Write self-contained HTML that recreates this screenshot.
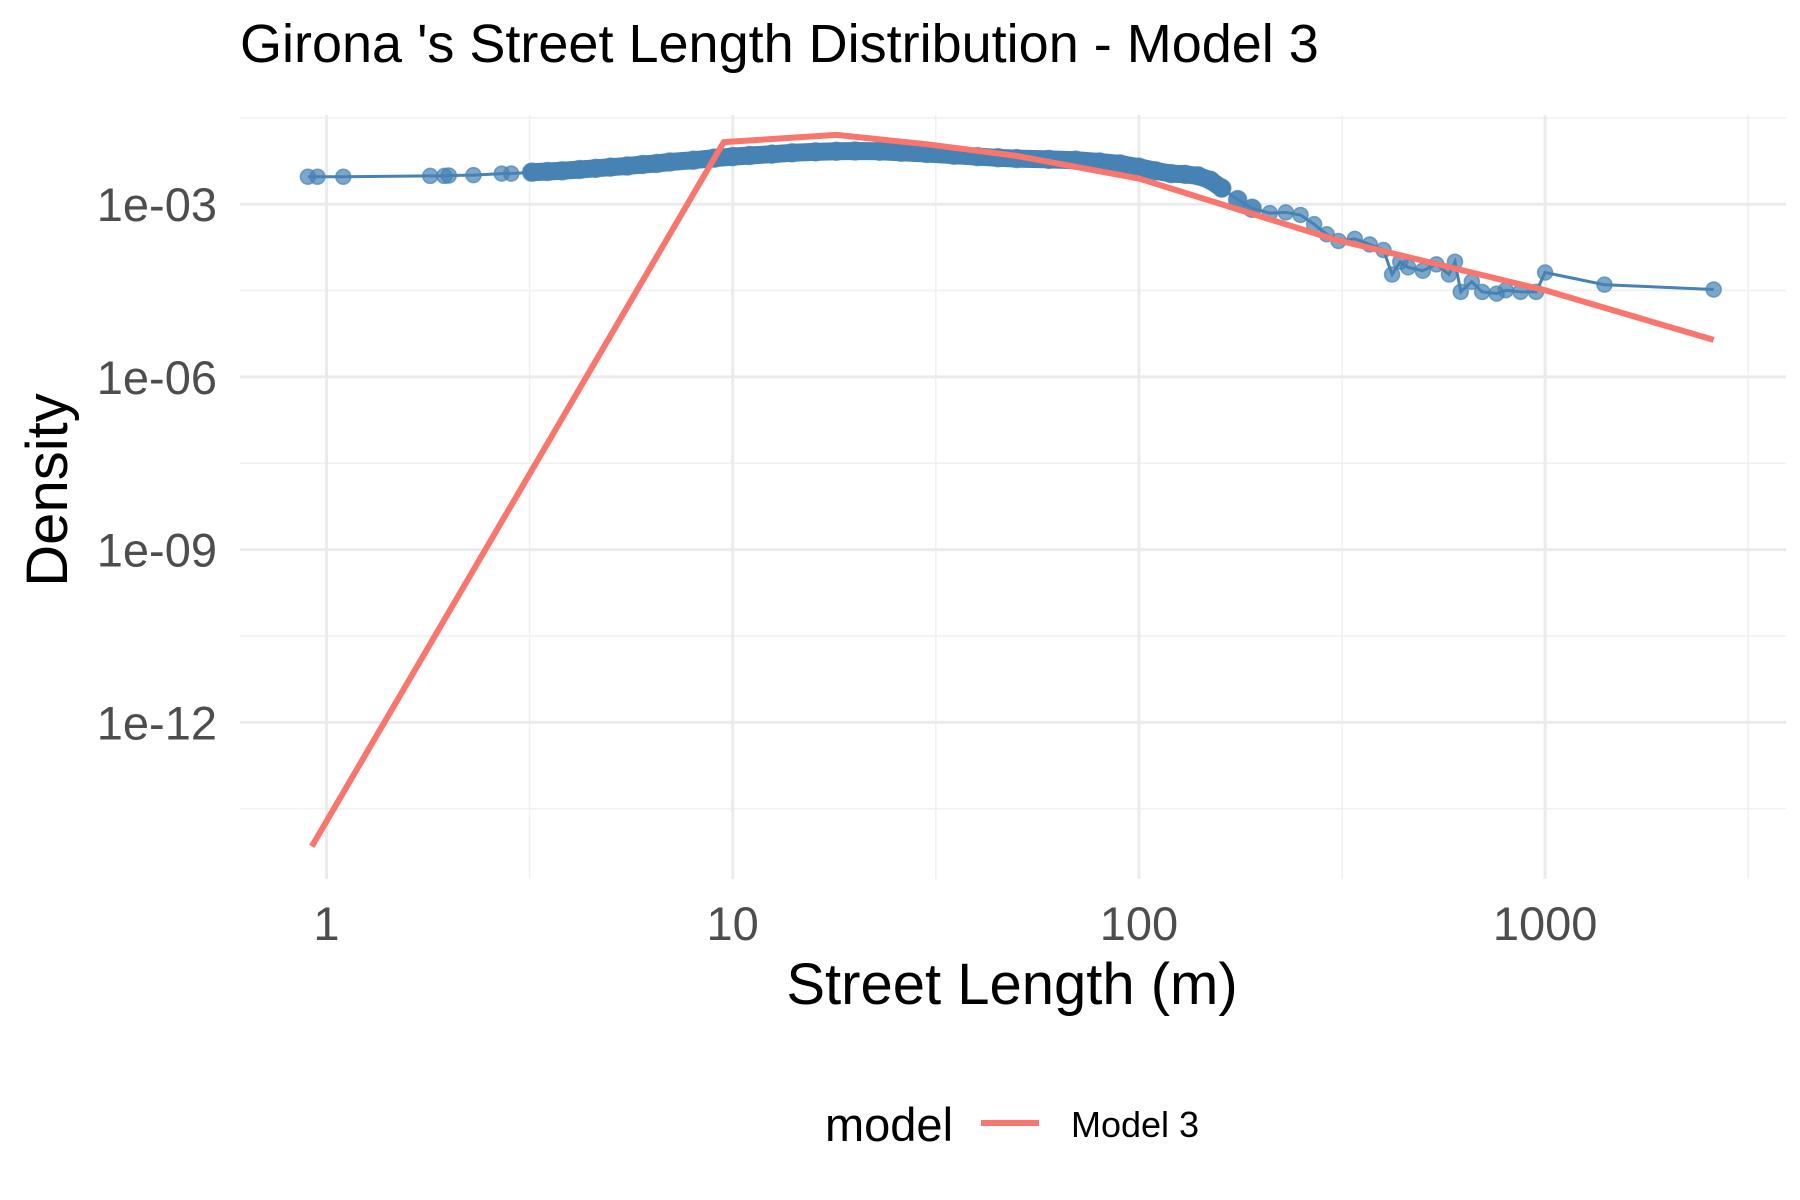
<!DOCTYPE html>
<html><head><meta charset="utf-8"><style>
html,body{margin:0;padding:0;background:#fff;}
svg{display:block;font-family:"Liberation Sans",Arial,sans-serif;}
</style></head><body>
<svg id="chart" width="1800" height="1200" viewBox="0 0 1800 1200">
<text x="240" y="62" font-size="54" fill="#000">Girona 's Street Length Distribution - Model 3</text>
<g id="grid"></g><g id="marks"></g><g id="axes"></g>
<text x="1012" y="1004" font-size="58" text-anchor="middle" fill="#000">Street Length (m)</text>
<text transform="translate(67,490) rotate(-90)" font-size="58" text-anchor="middle" fill="#000">Density</text>
<g>
<text x="825" y="1141" font-size="47" fill="#000">model</text>
<line x1="981" y1="1123" x2="1039" y2="1123" stroke="#F8766D" stroke-width="6"/>
<text x="1071" y="1137" font-size="36" fill="#000">Model 3</text>
</g>
</svg>
<script>
const obsX=[0.9,0.95,1.1,1.8,1.95,2.0,2.3,2.7,2.85,3.2,3.5,3.8,4.2,4.6,5,5.5,6,6.5,7,8,9,10,11,12.5,14,16,18,20,23,26,30,35,40,45,50,60,70,80,90,100,110,120,130,140,150,160,175,190,210,230,250,270,290,310,340,370,400,420,440,460,500,540,580,600,620,660,700,760,800,870,950,1000,1400,2600];
const obsY=[3.0e-3,3.0e-3,3.0e-3,3.1e-3,3.1e-3,3.15e-3,3.2e-3,3.4e-3,3.4e-3,3.6e-3,3.7e-3,3.8e-3,4.0e-3,4.2e-3,4.4e-3,4.6e-3,4.9e-3,5.1e-3,5.4e-3,5.8e-3,6.3e-3,6.7e-3,7.0e-3,7.4e-3,7.8e-3,8.1e-3,8.3e-3,8.4e-3,8.3e-3,8.0e-3,7.6e-3,7.1e-3,6.7e-3,6.4e-3,6.2e-3,6.0e-3,5.8e-3,5.4e-3,5.0e-3,4.4e-3,3.8e-3,3.4e-3,3.3e-3,3.1e-3,2.6e-3,1.9e-3,1.2e-3,8.5e-4,7.0e-4,7.2e-4,6.5e-4,4.5e-4,3.0e-4,2.3e-4,2.5e-4,2.0e-4,1.6e-4,6e-5,1.0e-4,8e-5,7e-5,9e-5,6e-5,1.0e-4,3e-5,4.5e-5,3e-5,2.8e-5,3.2e-5,3e-5,3e-5,6.5e-5,4e-5,3.3e-5];
const modelX=[0.92,9.5,18,30,50,100,300,1000,2600];
const modelY=[7e-15,1.2e-2,1.6e-2,1.1e-2,6.9e-3,2.8e-3,2.5e-4,3.2e-5,4.4e-6];
const xTicks=[1,10,100,1000];
const xTickLabels=["1","10","100","1000"];
const yTicks=[1e-3,1e-6,1e-9,1e-12];
const yTickLabels=["1e-03","1e-06","1e-09","1e-12"];

const NS="http://www.w3.org/2000/svg";
const L=240,R=1786,T=115,B=879;
function sx(x){return 326.5+406.2*Math.log10(x);}
function sy(y){return 204.2-57.57*(Math.log10(y)+3);}
function mk(tag,attrs,parent){const e=document.createElementNS(NS,tag);for(const k in attrs)e.setAttribute(k,attrs[k]);parent.appendChild(e);return e;}
const grid=document.getElementById('grid'),marks=document.getElementById('marks'),axes=document.getElementById('axes');
for(let i=-0.5;i<=3.5;i+=1){const x=sx(Math.pow(10,i));if(x<L||x>R)continue;const g=mk('line',{x1:x,x2:x,y1:T,y2:B,stroke:'#f0f0f0','stroke-width':1.5},grid);

}
for(let e=-1.5;e>=-13.5;e-=3){const y=sy(Math.pow(10,e));if(y<T||y>B)continue;const g=mk('line',{x1:L,x2:R,y1:y,y2:y,stroke:'#f0f0f0','stroke-width':1.5},grid);

}
xTicks.forEach((v,i)=>{const x=sx(v);const g=mk('line',{x1:x,x2:x,y1:T,y2:B,stroke:'#ebebeb','stroke-width':3},grid);


const t=mk('text',{x:x,y:940,'font-size':47,'text-anchor':'middle',fill:'#4d4d4d'},axes);t.textContent=xTickLabels[i];

});
yTicks.forEach((v,i)=>{const y=sy(v);const g=mk('line',{x1:L,x2:R,y1:y,y2:y,stroke:'#ebebeb','stroke-width':3},grid);


const t=mk('text',{x:217,y:y+17,'font-size':47,'text-anchor':'end',fill:'#4d4d4d'},axes);t.textContent=yTickLabels[i];

});
let d=obsX.map((x,i)=>(i?'L':'M')+sx(x).toFixed(1)+','+sy(obsY[i]).toFixed(1)).join(' ');
const ol=mk('path',{d:d,fill:'none',stroke:'#4682B4','stroke-width':3},marks);


const bd=obsX.map((x,i)=>[x,obsY[i]]).filter(p=>p[0]>=3&&p[0]<=165).map((p,i)=>(i?'L':'M')+sx(p[0]).toFixed(1)+','+sy(p[1]).toFixed(1)).join(' ');
const band=mk('path',{d:bd,fill:'none',stroke:'#4682B4','stroke-width':18,'stroke-linejoin':'round','stroke-linecap':'round'},marks);


obsX.forEach((x,i)=>{const c=mk('circle',{cx:sx(x),cy:sy(obsY[i]),r:(x>3&&x<200)?9:7.5,fill:'#4682B4','fill-opacity':(x>3&&x<200)?0.9:0.7,stroke:'#4682B4','stroke-opacity':0.7,'stroke-width':1.5},marks);

});
const md=modelX.map((x,i)=>(i?'L':'M')+sx(x).toFixed(1)+','+sy(modelY[i]).toFixed(1)).join(' ');
const ml=mk('path',{d:md,fill:'none',stroke:'#F8766D','stroke-width':6,'stroke-linejoin':'round'},marks);


</script>
</body></html>
